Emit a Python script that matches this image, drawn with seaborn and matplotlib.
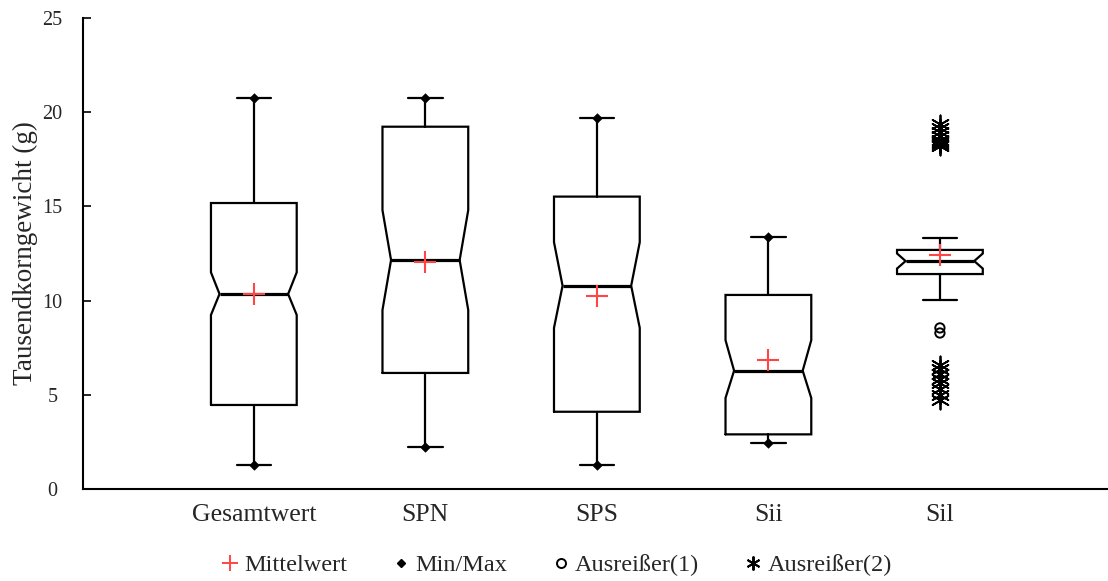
import numpy as np
import pandas as pd
import matplotlib
matplotlib.use("Agg")
import matplotlib.pyplot as plt
from matplotlib.lines import Line2D
import seaborn as sns

# ---- data ----
categories = ["Gesamtwert", "SPN", "SPS", "Sii", "Sil"]
q1 = [4.46, 6.16, 4.10, 2.90, 11.41]
median = [10.35, 12.15, 10.79, 6.28, 12.10]
q3 = [15.18, 19.23, 15.52, 10.30, 12.69]
whisker_low = [1.27, 2.25, 1.27, 2.44, 10.03]
whisker_high = [20.78, 20.78, 19.67, 13.40, 13.30]
notch_low = [9.24, 9.50, 8.55, 4.83, 11.70]
notch_high = [11.50, 14.80, 13.10, 7.90, 12.50]
mean = [10.35, 12.07, 10.24, 6.85, 12.42]
min_vals = [1.27, 2.25, 1.27, 2.44, np.nan]
max_vals = [20.78, 20.78, 19.67, 13.40, np.nan]
sil_outliers_1 = [8.55, 8.28]
sil_outliers_2 = [19.4, 19.15, 18.95, 18.75, 18.55, 18.4, 18.3, 18.2,
                  6.6, 6.35, 6.1, 5.85, 5.6, 5.3, 5.0, 4.7]
yticks = [0, 5, 10, 15, 20, 25]

sns.set_theme(style="white")
plt.rcParams["font.family"] = ["Liberation Serif", "DejaVu Serif"]

fig = plt.figure(figsize=(11.08, 5.81), dpi=100)
ax = fig.add_axes([83 / 1108, 92 / 581, 1 - 83 / 1108, (489 - 18) / 581])

pos = np.arange(len(categories))
width = 0.5
lw = 1.6

stats = []
for i in range(len(categories)):
    stats.append(dict(q1=q1[i], med=median[i], q3=q3[i],
                      whislo=whisker_low[i], whishi=whisker_high[i],
                      cilo=notch_low[i], cihi=notch_high[i], fliers=[]))

ax.bxp(stats, positions=pos, widths=width, capwidths=0.2, showbox=False,
       showfliers=False, manage_ticks=False,
       whiskerprops=dict(color="black", lw=lw),
       capprops=dict(color="black", lw=lw),
       medianprops=dict(visible=False))

# notched boxes (notch indents to 80% of box width) and medians
for i, p in enumerate(pos):
    hw = width / 2
    nw = hw * 0.8
    xs = [p - hw, p + hw, p + hw, p + nw, p + hw, p + hw, p - hw, p - hw, p - nw, p - hw, p - hw]
    ys = [q1[i], q1[i], notch_low[i], median[i], notch_high[i], q3[i], q3[i],
          notch_high[i], median[i], notch_low[i], q1[i]]
    ax.plot(xs, ys, color="black", lw=lw, solid_joinstyle="miter", zorder=3)
    ax.plot([p - nw, p + nw], [median[i], median[i]], color="black", lw=2.3, zorder=3,
            solid_capstyle="butt")

red = "#ff4545"
df_mean = pd.DataFrame({"x": pos, "y": mean})
sns.scatterplot(data=df_mean, x="x", y="y", marker="+", s=230, color=red,
                linewidth=1.5, ax=ax, zorder=5, legend=False)

df_mm = pd.DataFrame({"x": np.concatenate([pos, pos]),
                      "y": np.concatenate([min_vals, max_vals])}).dropna()
sns.scatterplot(data=df_mm, x="x", y="y", marker="D", s=24, color="black",
                edgecolor="black", ax=ax, zorder=5, legend=False)

df_o1 = pd.DataFrame({"x": [4] * len(sil_outliers_1), "y": sil_outliers_1})
sns.scatterplot(data=df_o1, x="x", y="y", marker="o", s=45, facecolor="none",
                edgecolor="black", linewidth=1.4, ax=ax, zorder=5, legend=False)

df_o2 = pd.DataFrame({"x": [4] * len(sil_outliers_2), "y": sil_outliers_2})
sns.scatterplot(data=df_o2, x="x", y="y", marker=(6, 2, 0), s=170, color="black",
                linewidth=1.3, ax=ax, zorder=5, legend=False)

ax.set_xlim(-0.996, 4.98)
ax.set_ylim(0, 25)
ax.set_yticks(yticks)
ax.set_yticklabels([str(t) for t in yticks], fontsize=14.5)
ax.set_xticks(pos)
ax.set_xticklabels(categories, fontsize=18.5)
ax.set_xlabel("")
ax.set_ylabel("Tausendkorngewicht (g)", fontsize=19.5, labelpad=3)
ax.tick_params(axis="y", direction="in", length=6, width=1.2, color="black", pad=22, left=True)
ax.tick_params(axis="x", length=0, pad=11)
for lab in ax.get_yticklabels():
    lab.set_horizontalalignment("center")
for s in ["top", "right"]:
    ax.spines[s].set_visible(False)
for s in ["left", "bottom"]:
    ax.spines[s].set_color("black")
    ax.spines[s].set_linewidth(1.5)

handles = [
    Line2D([], [], marker="+", color=red, ls="none", markersize=12, markeredgewidth=1.4),
    Line2D([], [], marker="D", color="black", ls="none", markersize=4.5),
    Line2D([], [], marker="o", markerfacecolor="none", markeredgecolor="black", ls="none",
           markersize=6.5, markeredgewidth=1.4),
    Line2D([], [], marker=(6, 2, 0), color="black", ls="none", markersize=10, markeredgewidth=1.4),
]
labels = ["Mittelwert", "Min/Max", "Ausreißer(1)", "Ausreißer(2)"]
fig.legend(handles, labels, loc="center", bbox_to_anchor=(557 / 1108, 1 - 565 / 581),
           ncol=4, frameon=False, fontsize=17.5, handlelength=0.6, handletextpad=0.3,
           columnspacing=1.9)

fig.savefig("out.png", dpi=100)
